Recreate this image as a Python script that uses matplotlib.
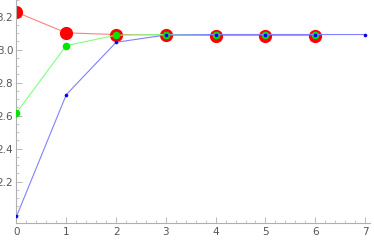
import matplotlib
matplotlib.use("Agg")
import matplotlib.pyplot as plt
from matplotlib.ticker import MultipleLocator

x_red = [0, 1, 2, 3, 4, 5, 6]
y_red = [3.226, 3.101, 3.091, 3.089, 3.085, 3.085, 3.085]

x_green = [0, 1, 2, 3, 4, 5, 6]
y_green = [2.618, 3.024, 3.087, 3.091, 3.091, 3.091, 3.091]

x_blue = [0, 1, 2, 3, 4, 5, 6, 7]
y_blue = [1.99, 2.727, 3.044, 3.088, 3.091, 3.091, 3.091, 3.091]

gray = "#888888"

fig = plt.figure(figsize=(3.74, 2.41), dpi=100)
ax = fig.add_axes([16 / 374, 18 / 241, 354 / 374, 223 / 241])

ax.plot(x_red, y_red, color=(1, 0.5, 0.5), lw=0.8, zorder=1)
ax.plot(x_red, y_red, "o", color="red", ms=9.5, mec="none", zorder=2)
ax.plot(x_green, y_green, color=(0.5, 1, 0.5), lw=0.8, zorder=3)
ax.plot(x_green, y_green, "o", color=(0, 0.9, 0), ms=5.5, mec="none", zorder=4)
ax.plot(x_blue, y_blue, color=(0.5, 0.5, 1), lw=0.8, zorder=5)
ax.plot(x_blue, y_blue, "o", color="blue", ms=2.6, mec="none", zorder=6)

ax.set_xlim(-0.01, 7.1)
ax.set_ylim(1.95, 3.30)

for s in ["top", "right"]:
    ax.spines[s].set_visible(False)
for s in ["left", "bottom"]:
    ax.spines[s].set_color("#b0b0b0")
    ax.spines[s].set_linewidth(0.8)

ax.xaxis.set_major_locator(MultipleLocator(1))
ax.xaxis.set_minor_locator(MultipleLocator(0.2))
ax.yaxis.set_major_locator(MultipleLocator(0.2))
ax.yaxis.set_minor_locator(MultipleLocator(0.05))
ax.set_yticks([2.2, 2.4, 2.6, 2.8, 3.0, 3.2])

ax.tick_params(which="both", direction="in", color="#b0b0b0", labelcolor="#555555",
               labelsize=7.5)
ax.tick_params(which="major", length=4, width=0.6)
ax.tick_params(which="minor", length=2, width=0.5)
ax.tick_params(axis="y", pad=2)
ax.tick_params(axis="x", pad=3)

fig.savefig("out.png", dpi=100)
